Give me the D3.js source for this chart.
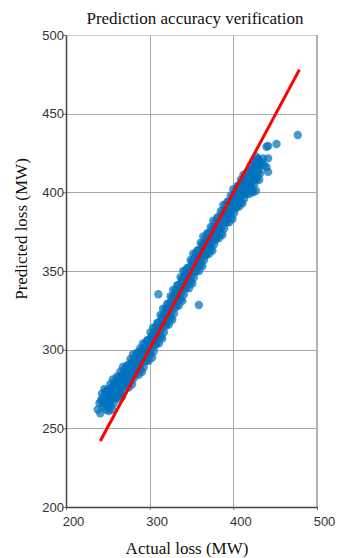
<!DOCTYPE html>
<html><head><meta charset="utf-8">
<script src="https://cdn.jsdelivr.net/npm/d3@7"></script>
<style>body{margin:0;background:#fff}svg{display:block}</style>
</head><body><svg id="chart" width="338" height="558"></svg>
<script>
// Actual loss (MW) of each sample
const actualLoss = [
248,248,249,249,250,250,251,251,252,252,253,253,254,254,255,255,256,256,257,257,258,258,259,259,
260,260,261,261,262,262,263,263,264,264,265,265,266,266,267,267,268,268,269,269,270,270,271,271,
272,272,273,273,274,274,275,275,276,276,277,277,278,278,279,279,280,280,281,281,282,282,283,283,
284,284,285,285,286,286,287,287,288,288,289,289,290,290,291,291,292,292,293,293,294,294,295,295,
296,296,297,297,298,298,299,299,300,300,301,301,302,302,303,303,304,304,305,305,306,306,307,307,
308,308,309,309,310,310,311,311,312,312,313,313,314,314,315,315,316,316,317,317,318,318,319,319,
320,320,321,321,322,322,323,323,324,324,325,325,326,326,327,327,328,328,329,329,330,330,331,331,
332,332,333,333,334,334,335,335,336,336,337,337,338,338,339,339,340,340,341,341,342,342,343,343,
344,344,345,345,346,346,347,347,348,348,349,349,350,350,351,351,352,352,353,353,354,354,355,355,
356,356,357,357,358,358,359,359,360,360,361,361,362,362,363,363,364,364,365,365,366,366,367,367,
368,368,369,369,370,370,371,371,372,372,373,373,374,374,375,375,376,376,377,377,378,378,379,379,
380,380,381,381,382,382,383,383,384,384,385,385,386,386,387,387,388,388,389,389,390,390,391,391,
392,392,393,393,394,394,395,395,396,396,397,397,398,398,399,399,400,400,401,401,402,402,403,403,
404,404,405,405,406,406,407,407,408,408,409,409,410,410,411,411,412,412,413,413,414,414,415,415,
416,416,417,417,418,418,419,419,420,420,421,421,422,422,423,423,424,424,425,425,426,426,427,427,
428,428,429,429,430,430,431,431,432,432,
238,240,241,242,243,244,245,246,247,246,243,310.4,358.8,423.6,427,435.6,439.6,441.6,441.6,439.6,441.6,451.6,477,427.6,434,437
];
// Predicted loss (MW) of each sample
const predictedLoss = [
270,262,265,274,274,267,261,271,270,265,278,264,268,275,276,262,272,281,266,276,278,272,269,280,
278,270,274,283,282,275,269,279,278,273,286,272,276,283,284,270,280,289,273,283,285,279,277,288,
285,277,281,290,290,283,276,286,286,281,294,280,284,291,292,278,288,297,282,292,293,287,285,296,
293,285,289,298,298,291,284,294,294,289,301,287,291,298,300,286,295,304,289,299,301,295,293,304,
301,293,297,306,306,299,293,303,303,298,311,297,301,308,309,295,305,314,299,309,311,305,303,314,
312,304,308,317,317,310,304,314,314,309,322,308,312,319,321,307,317,326,311,321,323,317,315,326,
324,316,320,329,329,322,316,326,326,321,334,320,324,331,333,319,329,338,323,333,335,329,327,338,
336,328,332,341,341,334,328,338,338,333,346,332,336,343,345,331,341,350,335,345,347,341,339,350,
348,340,343,352,352,345,339,349,349,344,357,343,347,354,356,342,352,361,346,356,358,352,350,361,
358,350,354,363,363,356,350,360,360,355,368,354,358,365,367,353,363,372,357,367,368,362,360,371,
369,361,365,374,374,367,361,371,371,366,378,364,368,375,377,363,373,382,367,377,378,372,370,381,
379,371,375,384,384,377,371,381,381,376,388,374,378,385,387,373,383,392,377,387,389,383,381,392,
389,381,385,394,394,387,381,391,391,386,398,384,388,395,397,383,393,402,387,397,399,393,390,401,
399,391,395,404,404,397,391,401,400,395,408,394,398,405,407,393,402,411,396,406,408,402,399,410,
408,400,404,413,413,406,399,409,409,404,417,403,406,413,415,401,411,420,405,415,416,410,408,419,
417,409,412,421,421,414,408,418,417,412,
262,266,259.6,268,272,264,270,266,273,275,268,335.2,328.4,400,401,421.6,416,413,421.6,429,429.5,430.7,436.4,422.7,419,417
];
// Reference line (fitted)
const fitActual = [241, 479];
const fitPredicted = [242, 478];
const xTicks = [200, 300, 400, 500];
const yTicks = [200, 250, 300, 350, 400, 450, 500];
const titleText = "Prediction accuracy verification";
const xLabel = "Actual loss (MW)";
const yLabel = "Predicted loss (MW)";

const svg = d3.select("#chart");
const L = 66, R = 317, T = 35, B = 507;
const x = d3.scaleLinear().domain([200, 500]).range([L, R]);
const y = d3.scaleLinear().domain([200, 500]).range([B, T]);

// grid
const grid = svg.append("g");
grid.selectAll("line.gx").data(xTicks.slice(1, -1)).join("line")
  .attr("x1", d => Math.round(x(d)) + 0.5).attr("x2", d => Math.round(x(d)) + 0.5)
  .attr("y1", T).attr("y2", B).attr("stroke", "#a8a8a8").attr("stroke-width", 1);
grid.selectAll("line.gy").data(yTicks.slice(1, -1)).join("line")
  .attr("y1", d => Math.round(y(d)) + 0.5).attr("y2", d => Math.round(y(d)) + 0.5)
  .attr("x1", L).attr("x2", R).attr("stroke", "#a8a8a8").attr("stroke-width", 1);
// box top/right
svg.append("line").attr("x1", L).attr("x2", R).attr("y1", T + 0.5).attr("y2", T + 0.5)
  .attr("stroke", "#cccccc").attr("stroke-width", 1);
svg.append("line").attr("x1", R).attr("x2", R).attr("y1", T).attr("y2", B)
  .attr("stroke", "#9a9a9a").attr("stroke-width", 1.5);

// points
svg.append("g").selectAll("circle").data(actualLoss.map((a, i) => [a, predictedLoss[i]])).join("circle")
  .attr("cx", d => x(d[0])).attr("cy", d => y(d[1])).attr("r", 4.2)
  .attr("fill", "#0072BD").attr("fill-opacity", 0.72);

// reference line
svg.append("path").datum(fitActual.map((a, i) => [a, fitPredicted[i]]))
  .attr("d", d3.line().x(d => x(d[0])).y(d => y(d[1])))
  .attr("stroke", "#ff0000").attr("stroke-width", 3).attr("fill", "none");

// axes
const xAxis = svg.append("g").attr("transform", `translate(0,${B})`)
  .call(d3.axisBottom(x).tickValues(xTicks).tickSize(3).tickPadding(7).tickSizeOuter(0));
const yAxis = svg.append("g").attr("transform", `translate(${L},0)`)
  .call(d3.axisLeft(y).tickValues(yTicks).tickSize(3).tickPadding(-1).tickSizeOuter(0));
[xAxis, yAxis].forEach(g => {
  g.select(".domain").attr("stroke", "#444").attr("stroke-width", 1.5);
  g.selectAll(".tick line").attr("stroke", "#666");
  g.selectAll("text").attr("font-family", "Liberation Sans, Arial, sans-serif")
    .attr("font-size", 13).attr("fill", "#333");
});
xAxis.selectAll("text").attr("dx", 7);

// title and labels
const serif = "Liberation Serif, Times New Roman, serif";
svg.append("text").attr("x", 195).attr("y", 24).attr("text-anchor", "middle")
  .attr("font-family", serif).attr("font-size", 17).attr("fill", "#111")
  .text(titleText);
svg.append("text").attr("x", 187).attr("y", 554).attr("text-anchor", "middle")
  .attr("font-family", serif).attr("font-size", 17).attr("fill", "#111")
  .text(xLabel);
svg.append("text").attr("transform", "translate(27,229) rotate(-90)").attr("text-anchor", "middle")
  .attr("font-family", serif).attr("font-size", 17).attr("fill", "#111")
  .text(yLabel);
</script></body></html>
